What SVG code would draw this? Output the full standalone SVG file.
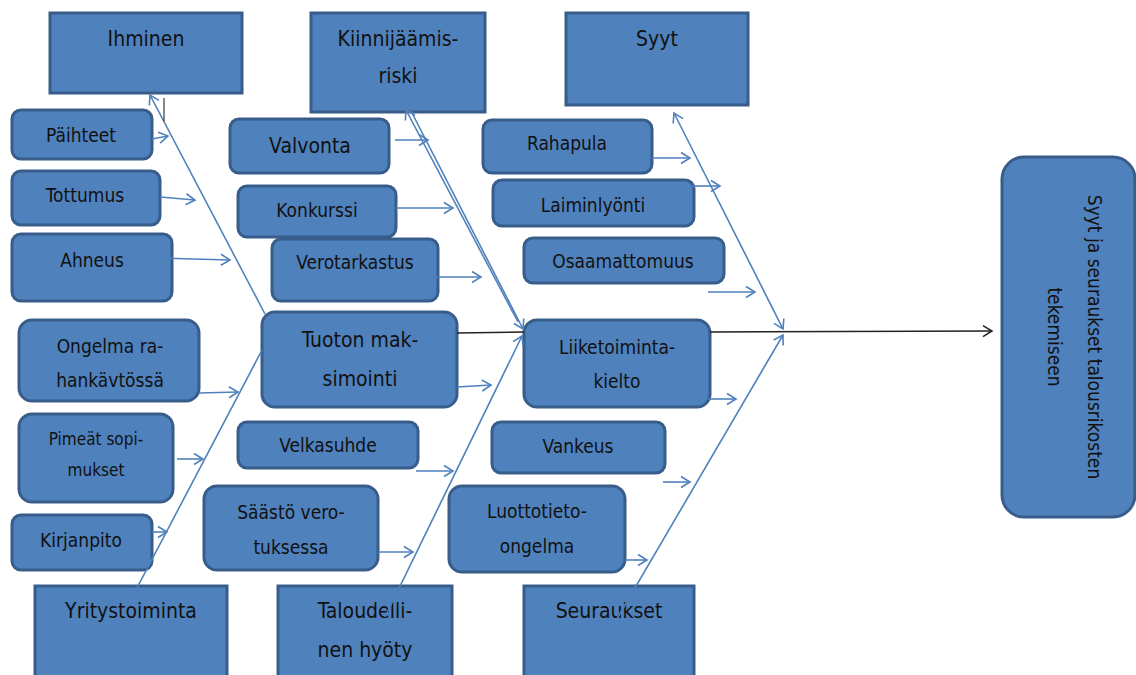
<svg xmlns="http://www.w3.org/2000/svg" width="1136" height="675" viewBox="0 0 1136 675">
  <style>
    .box { fill: #4f81bd; stroke: #385d8a; stroke-width: 3; }
    .lbl { font-family: "DejaVu Sans Condensed", "DejaVu Sans", sans-serif; font-size: 19px; fill: #111; text-anchor: middle; }
    .big { font-size: 21px; }
    .sm { font-size: 17px; }
    .bone { stroke: #4f81bd; stroke-width: 1.6; fill: none; }
    .spine { stroke: #222; stroke-width: 1.4; fill: none; }
  </style>
  <defs>
    <marker id="ah" viewBox="-11 -7 13 14" markerWidth="13" markerHeight="14" refX="0" refY="0" orient="auto-start-reverse" markerUnits="userSpaceOnUse">
      <path d="M-9,-5.5 L0,0 L-9,5.5" fill="none" stroke="#4f81bd" stroke-width="1.6"/>
    </marker>
    <marker id="ahk" viewBox="-11 -7 13 14" markerWidth="13" markerHeight="14" refX="0" refY="0" orient="auto" markerUnits="userSpaceOnUse">
      <path d="M-9,-5.5 L0,0 L-9,5.5" fill="none" stroke="#222" stroke-width="1.5"/>
    </marker>
  </defs>

  <rect width="1136" height="675" fill="#fff"/>

  <!-- category headers (top) -->
  <g id="ihminen"><rect class="box" x="50" y="13" width="192" height="80"/><text class="lbl big" x="146" y="46">Ihminen</text></g>
  <g id="kiinnijaamisriski"><rect class="box" x="311" y="13" width="174" height="99"/><text class="lbl big" x="398" y="46">Kiinnijäämis-</text><text class="lbl big" x="398" y="83">riski</text></g>
  <g id="syyt"><rect class="box" x="566" y="13" width="182" height="92"/><text class="lbl big" x="657" y="46">Syyt</text></g>

  <!-- cause boxes -->
  <g id="paihteet"><rect class="box" x="12" y="110" width="140" height="49" rx="9"/><text class="lbl" x="81" y="142">Päihteet</text></g>
  <g id="tottumus"><rect class="box" x="12" y="171" width="148" height="54" rx="9"/><text class="lbl" x="85" y="202">Tottumus</text></g>
  <g id="ahneus"><rect class="box" x="12" y="234" width="160" height="67" rx="9"/><text class="lbl" x="92" y="267">Ahneus</text></g>
  <g id="valvonta"><rect class="box" x="230" y="119" width="159" height="54" rx="9"/><text class="lbl big" x="310" y="153">Valvonta</text></g>
  <g id="konkurssi"><rect class="box" x="238" y="186" width="158" height="51" rx="9"/><text class="lbl" x="317" y="217">Konkurssi</text></g>
  <g id="verotarkastus"><rect class="box" x="272" y="239" width="166" height="62" rx="9"/><text class="lbl" x="355" y="269">Verotarkastus</text></g>
  <g id="rahapula"><rect class="box" x="483" y="120" width="169" height="53" rx="9"/><text class="lbl" x="567" y="150">Rahapula</text></g>
  <g id="laiminlyonti"><rect class="box" x="493" y="180" width="201" height="46" rx="9"/><text class="lbl" x="593" y="212">Laiminlyönti</text></g>
  <g id="osaamattomuus"><rect class="box" x="524" y="238" width="200" height="45" rx="9"/><text class="lbl" x="623" y="268">Osaamattomuus</text></g>

  <g id="ongelma"><rect class="box" x="19" y="320" width="180" height="81" rx="13"/><text class="lbl" x="110" y="353">Ongelma ra-</text><text class="lbl" x="110" y="387">hankävtössä</text></g>
  <g id="pimeat"><rect class="box" x="19" y="414" width="154" height="88" rx="13"/><text class="lbl sm" x="96" y="445">Pimeät sopi-</text><text class="lbl sm" x="96" y="476">mukset</text></g>
  <g id="kirjanpito"><rect class="box" x="12" y="515" width="140" height="55" rx="9"/><text class="lbl" x="81" y="547">Kirjanpito</text></g>
  <g id="tuoton"><rect class="box" x="262" y="312" width="195" height="95" rx="13"/><text class="lbl big" x="360" y="347">Tuoton mak-</text><text class="lbl big" x="360" y="386">simointi</text></g>
  <g id="velkasuhde"><rect class="box" x="238" y="422" width="180" height="46" rx="9"/><text class="lbl" x="328" y="452">Velkasuhde</text></g>
  <g id="saasto"><rect class="box" x="204" y="486" width="174" height="84" rx="13"/><text class="lbl" x="291" y="519">Säästö vero-</text><text class="lbl" x="291" y="554">tuksessa</text></g>
  <g id="liiketoimintakielto"><rect class="box" x="524" y="320" width="186" height="87" rx="13"/><text class="lbl" x="617" y="354">Liiketoiminta-</text><text class="lbl" x="617" y="388">kielto</text></g>
  <g id="vankeus"><rect class="box" x="492" y="422" width="173" height="51" rx="9"/><text class="lbl" x="578" y="453">Vankeus</text></g>
  <g id="luottotieto"><rect class="box" x="449" y="486" width="176" height="86" rx="13"/><text class="lbl" x="537" y="518">Luottotieto-</text><text class="lbl" x="537" y="553">ongelma</text></g>

  <!-- category headers (bottom) -->
  <g id="yritystoiminta"><rect class="box" x="35" y="586" width="192" height="92"/><text class="lbl big" x="131" y="618">Yritystoiminta</text></g>
  <g id="taloudellinen"><rect class="box" x="278" y="586" width="174" height="92"/><text class="lbl big" x="365" y="618">Taloudelli-</text><text class="lbl big" x="365" y="657">nen hyöty</text></g>
  <g id="seuraukset"><rect class="box" x="524" y="586" width="170" height="92"/><text class="lbl big" x="609" y="618">Seuraukset</text></g>

  <!-- effect -->
  <g id="tulos">
    <rect class="box" x="1002" y="157" width="133" height="360" rx="22"/>
    <text class="lbl" transform="translate(1088,337) rotate(90)">Syyt ja seuraukset talousrikosten</text>
    <text class="lbl" transform="translate(1048,337) rotate(90)">tekemiseen</text>
  </g>

  <!-- connectors -->
  <g id="connectors">
    <line class="spine" x1="457" y1="333" x2="524" y2="332"/>
    <line class="spine" x1="710" y1="332" x2="992" y2="331" marker-end="url(#ahk)"/>

    <line class="bone" x1="265" y1="314" x2="150" y2="95" marker-end="url(#ah)"/>
    <line class="bone" x1="128" y1="605" x2="262" y2="350"/>
    <line class="bone" x1="411" y1="111" x2="523" y2="329" marker-end="url(#ah)"/>
    <line class="bone" x1="518" y1="322" x2="406" y2="110" marker-end="url(#ah)"/>
    <line class="bone" x1="385" y1="617" x2="522" y2="336" marker-end="url(#ah)"/>
    <line class="bone" x1="674" y1="113" x2="783" y2="329" marker-start="url(#ah)" marker-end="url(#ah)"/>
    <line class="bone" x1="615" y1="622" x2="783" y2="335" marker-end="url(#ah)"/>

    <line class="bone" x1="152" y1="139" x2="168" y2="136" marker-end="url(#ah)"/>
    <line class="bone" x1="160" y1="197" x2="195" y2="200" marker-end="url(#ah)"/>
    <line class="bone" x1="157" y1="258" x2="230" y2="260" marker-end="url(#ah)"/>
    <line class="bone" x1="395" y1="140" x2="428" y2="140" marker-end="url(#ah)"/>
    <line class="bone" x1="396" y1="208" x2="453" y2="208" marker-end="url(#ah)"/>
    <line class="bone" x1="416" y1="277" x2="481" y2="277" marker-end="url(#ah)"/>
    <line class="bone" x1="652" y1="158" x2="690" y2="158" marker-end="url(#ah)"/>
    <line class="bone" x1="692" y1="186" x2="720" y2="186" marker-end="url(#ah)"/>
    <line class="bone" x1="708" y1="292" x2="755" y2="292" marker-end="url(#ah)"/>
    <line class="bone" x1="199" y1="393" x2="238" y2="392" marker-end="url(#ah)"/>
    <line class="bone" x1="177" y1="459" x2="203" y2="459" marker-end="url(#ah)"/>
    <line class="bone" x1="152" y1="532" x2="167" y2="532" marker-end="url(#ah)"/>
    <line class="bone" x1="457" y1="387" x2="491" y2="385" marker-end="url(#ah)"/>
    <line class="bone" x1="416" y1="471" x2="453" y2="471" marker-end="url(#ah)"/>
    <line class="bone" x1="378" y1="552" x2="413" y2="552" marker-end="url(#ah)"/>
    <line class="bone" x1="708" y1="399" x2="736" y2="399" marker-end="url(#ah)"/>
    <line class="bone" x1="663" y1="482" x2="690" y2="482" marker-end="url(#ah)"/>
    <line class="bone" x1="625" y1="560" x2="647" y2="560" marker-end="url(#ah)"/>
  </g>

  <!-- stray text caret -->
  <line x1="164" y1="98" x2="164" y2="121" stroke="#111" stroke-width="1"/>
  <line x1="164" y1="121" x2="164" y2="123" stroke="#d9822b" stroke-width="1"/>
</svg>
